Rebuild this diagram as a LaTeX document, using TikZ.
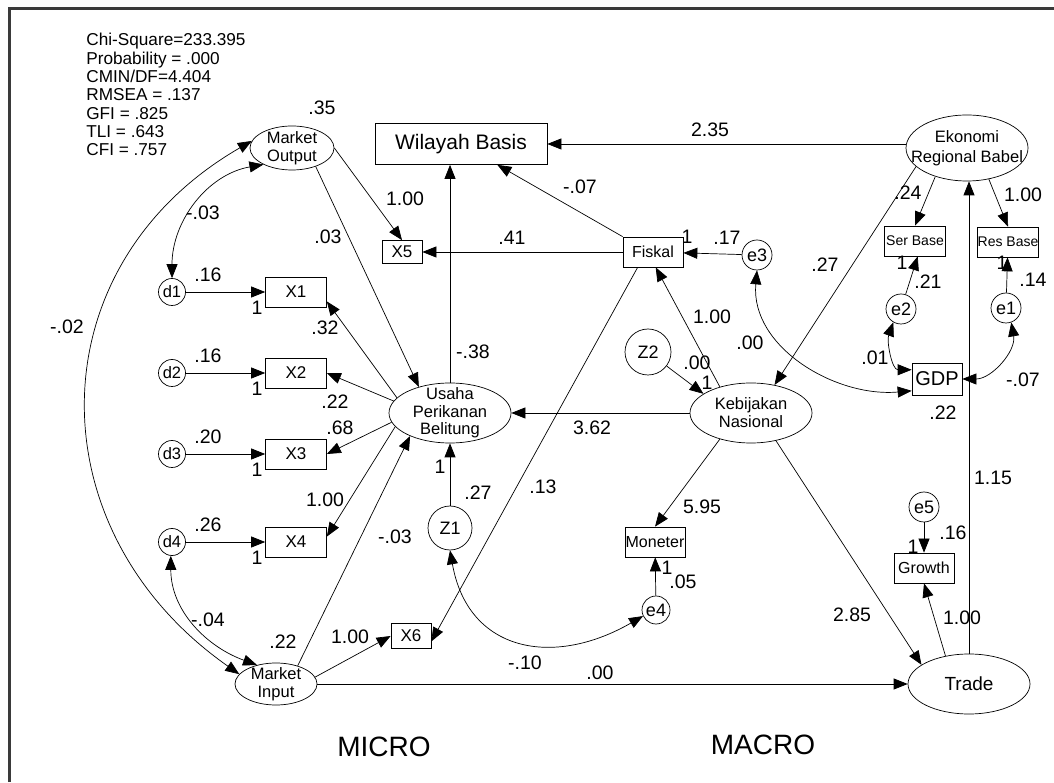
\documentclass[tikz,border=0pt]{standalone}
\usepackage{fontspec}
\setmainfont{Liberation Sans}
\usepackage{tikz}
\usetikzlibrary{shapes.geometric, arrows.meta, calc}
\definecolor{frameG}{HTML}{3A3A3A}

\begin{document}
\begin{tikzpicture}[x=1pt, y=1pt, line width=0.7pt,
   pth/.style={-{Triangle[length=14pt, width=11pt]}},
   cov/.style={{Triangle[length=14pt, width=11pt]}-{Triangle[length=14pt, width=11pt]}},
   lv/.style 2 args={ellipse, draw, minimum width=#1, minimum height=#2, inner sep=0pt},
   lvtxt/.style={align=center, inner sep=0pt, font=\fontsize{16.5}{18}\selectfont},
   obs/.style 2 args={rectangle, draw, minimum width=#1, minimum height=#2, inner sep=0pt,
                      font=\fontsize{17}{17}\selectfont},
   err/.style={circle, draw, minimum size=#1, inner sep=0pt, font=\fontsize{18}{18}\selectfont},
   err/.default=30pt,
   lbl/.style={inner sep=0pt, font=\fontsize{19.5}{20}\selectfont}]
  \useasboundingbox (0,0) rectangle (1054,782);
  % frame
  \draw[frameG, line width=3pt] (9,0) -- (9,773) -- (1054,773);
  % fit indices
  \node[anchor=north west, align=left, inner sep=0pt, font=\fontsize{17.2}{18.3}\selectfont] (fit) at (86,749)
    {Chi-Square=233.395\\Probability = .000\\CMIN/DF=4.404\\RMSEA = .137\\GFI = .825\\TLI = .643\\CFI = .757};
  % latent variables
  \node[lv={84pt}{44pt}, label={[lvtxt]center:{Market\\Output}}] (mout) at (292,634) {};
  \node[lv={82pt}{42pt}, label={[lvtxt]center:{Market\\Input}}] (minp) at (276,98) {};
  \node[lv={122pt}{60pt}, label={[lvtxt, font=\fontsize{16.5}{17.5}\selectfont]center:{Usaha\\Perikanan\\Belitung}}] (usa) at (450,369) {};
  \node[lv={122pt}{60pt}, label={[lvtxt]center:{Kebijakan\\Nasional}}] (keb) at (751,369) {};
  \node[lv={122pt}{66pt}, label={[lvtxt, font=\fontsize{16.5}{20}\selectfont]center:{Ekonomi\\Regional Babel}}] (eko) at (967,634) {};
  \node[lv={122pt}{60pt}, label={[lvtxt, font=\fontsize{19}{19}\selectfont]center:Trade}] (trade) at (969,98) {};
  % observed variables
  \node[obs={172pt}{41pt}, font=\fontsize{21}{21}\selectfont] (wil) at (461,638) {Wilayah Basis};
  \node[obs={40pt}{23pt}] (x5) at (402,530) {X5};
  \node[obs={60pt}{30pt}, font=\fontsize{16}{16}\selectfont] (fis) at (653,530) {Fiskal};
  \node[obs={61pt}{30pt}, font=\fontsize{14}{14}\selectfont] (sers) at (915,541) {Ser Base};
  \node[obs={61pt}{30pt}, font=\fontsize{14}{14}\selectfont] (ress) at (1008,540) {Res Base};
  \node[obs={50pt}{32pt}, font=\fontsize{20}{20}\selectfont] (gdp) at (937,403) {GDP};
  \node[obs={60pt}{30pt}, font=\fontsize{16}{16}\selectfont] (mon) at (655,240) {Moneter};
  \node[obs={40pt}{25pt}] (x6) at (411,146) {X6};
  \node[obs={60pt}{30pt}, font=\fontsize{16}{16}\selectfont] (grow) at (924,214) {Growth};
  % errors and disturbances
  \node[err] (e3) at (757,527) {e3};
  \node[err] (e2) at (901,473) {e2};
  \node[err] (e1) at (1006,474) {e1};
  \node[err] (e5) at (924,275) {e5};
  \node[err=28pt] (e4) at (656,172) {e4};
  \node[err=46pt] (z2) at (648,430) {Z2};
  \node[err=44pt] (z1) at (450,254) {Z1};
  % rows: d -> X with weights
  \foreach \i/\yy/\v in {1/490/.16, 2/409/.16, 3/328/.20, 4/240/.26}{
    \node[err=27pt, font=\fontsize{16.5}{16.5}\selectfont] (d\i) at (172,\yy) {d\i};
    \node[obs={61pt}{30pt}] (x\i) at (296,\yy) {X\i};
    \draw[pth] (d\i) -- (x\i);
    \node[lbl] (v\i) at (208,\yy+17) {\v};
    \node[lbl] (w\i) at (257,\yy-16) {1};
  }
  % paths
  \draw[pth] (wil.east -| eko.west) -- (wil.east);
  \draw[pth] (usa) -- (usa |- wil.south);
  \draw[pth] (fis.north west) -- (wil);
  \draw[pth] (mout.east) -- (x5.north);
  \draw[pth] (mout.-38) -- (usa.140);
  \draw[pth] (fis.west) -- (x5.east);
  \draw[pth] (e3) -- (fis);
  \draw[pth] (keb.140) -- (fis.-80);
  \draw[pth] (z2) -- (keb.158);
  \draw[pth] (keb) -- (usa);
  \draw[pth] (eko.-160) -- (keb.50);
  \draw[pth] (eko.-138) -- (sers.north);
  \draw[pth] (eko.-55) -- (ress.north);
  \draw[pth] (e2) -- (sers.-80);
  \draw[pth] (e1) -- (ress);
  \draw[pth] (usa.164) -- (x1.-17);
  \draw[pth] (usa.168) -- (x2.east);
  \draw[pth] (usa.189) -- (x3.east);
  \draw[pth] (usa.194) -- (x4.10);
  \draw[pth] (z1) -- (usa);
  \draw[pth] (minp.40) -- (usa.-150);
  \draw[pth] (minp.10) -- (x6.west);
  \draw[pth] (minp) -- (trade);
  \draw[pth] (fis.-135) -- (x6.-15);
  \draw[pth] (keb.-140) -- (mon.north);
  \draw[pth] (e4) -- (mon);
  \draw[pth] (keb.-48) -- (trade.158);
  \draw[pth] (trade.130) -- (grow.south);
  \draw[pth] (e5) -- (grow);
  \draw[pth] (trade) -- (trade |- eko.south);
  % covariances
  \draw[cov] (mout.170) to[out=210, in=145, looseness=1.2] (minp.165);
  \draw[cov] (mout.-150) to[out=190, in=90] (d1.north);
  \draw[cov] (d4.-95) to[out=-90, in=160] (minp.135);
  \draw[cov] (z1.south) to[out=-80, in=210, looseness=1.3] (e4.205);
  \draw[cov] (e2.-120) to[out=-110, in=180] (gdp.160);
  \draw[cov] (e1.-70) to[out=-80, in=0] (gdp.east);
  \draw[cov] (e3.-90) to[out=-95, in=185] (gdp.-155);
  % estimates
  \foreach \nm/\t/\xx/\yy in {c1/.35/322/674, c2/-.02/67/455, c3/-.03/203/569, c4/.03/328/545,
      c5/1.00/405/583, c6/-.07/580/595, c7/.41/512/544, c8/2.35/710/652, c9/1/687/545,
      c10/.17/727/544, c11/1.00/712/465, c12/.00/697/419, c13/1/707/399, c14/.00/750/439,
      c15/.27/825/517, c16/.24/908/589, c17/1.00/1023/587, c18/1/902/519, c19/.21/928/500,
      c20/1/1002/519, c21/.14/1033/502, c22/.01/875/424, c23/-.07/1023/402, c24/.22/943/369,
      c25/1.15/993/304, c26/-.38/473/430, c27/3.62/592/354, c28/1/440/315, c29/.27/478/289,
      c30/.13/543/295, c31/-.03/395/245, c32/5.95/702/275, c33/1/667/214, c34/.05/683/200,
      c35/.32/325/454, c36/.22/335/380, c37/.68/340/354, c38/1.00/325/282, c39/-.04/208/162,
      c40/.22/283/140, c41/1.00/350/145, c42/-.10/525/119, c43/.00/600/109, c44/2.85/852/167,
      c45/1.00/962/164, c46/1/913/235, c47/.16/953/249}{
    \node[lbl] (\nm) at (\xx,\yy) {\t};
  }
  % sections
  \node[font=\fontsize{28}{28}\selectfont] (micro) at (384,35) {MICRO};
  \node[font=\fontsize{28}{28}\selectfont] (macro) at (763,37) {MACRO};
\end{tikzpicture}
\end{document}
